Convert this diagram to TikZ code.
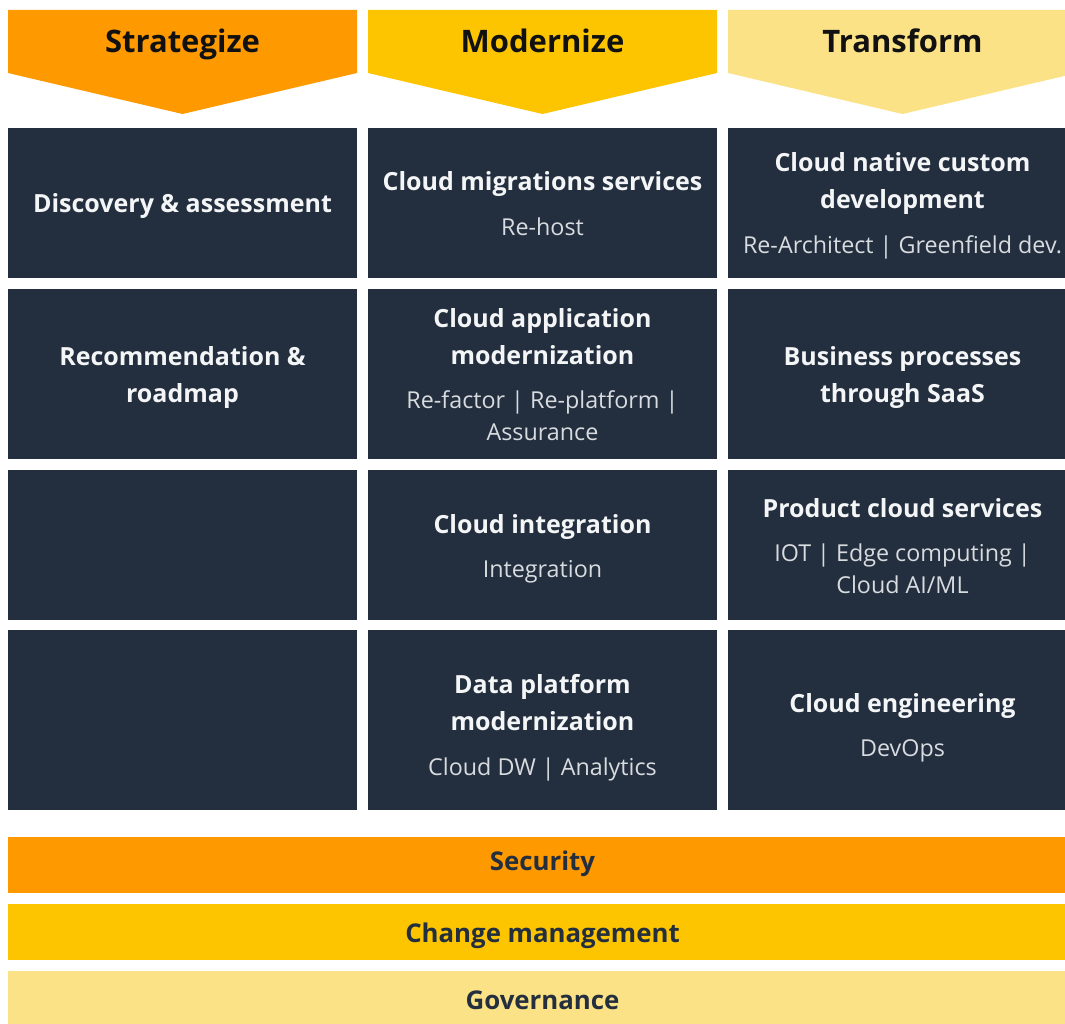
\documentclass[tikz,border=0pt]{standalone}
\usepackage{fontspec}
\setmainfont{Open Sans}
\definecolor{ink}{HTML}{232F3E}
\definecolor{orng}{HTML}{FF9900}
\definecolor{yel}{HTML}{FDC500}
\definecolor{lyel}{HTML}{FCE286}
\definecolor{titlec}{HTML}{F4F5F6}
\definecolor{subc}{HTML}{D8DBDF}
\definecolor{hdrc}{HTML}{111111}
\tikzset{
  ttl/.style={text=titlec, font=\bfseries\fontsize{25}{30}\selectfont, text height=18pt, text depth=0pt, inner sep=0pt},
  sub/.style={text=subc, font=\fontsize{23.3}{28}\selectfont, text height=16.5pt, text depth=0pt, inner sep=0pt},
  hdr/.style={text=hdrc, font=\bfseries\fontsize{31}{36}\selectfont, text height=22pt, text depth=0pt, inner sep=0pt},
  bartxt/.style={text=ink, font=\bfseries\fontsize{25.8}{30}\selectfont, text height=18.5pt, text depth=0pt, inner sep=0pt},
}
\begin{document}
\begin{tikzpicture}[x=1pt,y=-1pt]
\useasboundingbox (0,0) rectangle (1065,1024);
\clip (0,0) rectangle (1065,1024);
% headers
\fill[orng] (8,10) -- (357,10) -- (357,73) -- (182.5,114) -- (8,73) -- cycle;
\fill[yel] (368,10) -- (717,10) -- (717,73) -- (542.5,114) -- (368,73) -- cycle;
\fill[lyel] (728,10) -- (1077,10) -- (1077,73) -- (902.5,114) -- (728,73) -- cycle;
\node[hdr] (h1) at (182.5,42) {Strategize};
\node[hdr] (h2) at (542.5,42) {Modernize};
\node[hdr] (h3) at (902.5,42) {Transform};
% cells
\foreach \x in {8,368,728}{
  \fill[ink] (\x,128) rectangle ++(349,150);
  \fill[ink] (\x,289) rectangle ++(349,170);
  \fill[ink] (\x,470) rectangle ++(349,150);
  \fill[ink] (\x,630) rectangle ++(349,180);
}
% row 1
\node[ttl] (a1) at (182.5,204) {Discovery \& assessment};
\node[ttl] (b1) at (542.5,182) {Cloud migrations services};
\node[sub] (b1s) at (542.5,227) {Re-host};
\node[ttl] (c1a) at (902.5,163) {Cloud native custom};
\node[ttl] (c1b) at (902.5,200) {development};
\node[sub] (c1s) at (902.5,245) {Re-Architect | Greenfield dev.};
% row 2
\node[ttl] (a2a) at (182.5,356) {Recommendation \&};
\node[ttl] (a2b) at (182.5,393) {roadmap};
\node[ttl] (b2a) at (542.5,318) {Cloud application};
\node[ttl] (b2b) at (542.5,355) {modernization};
\node[sub] (b2s) at (542.5,400) {Re-factor | Re-platform |};
\node[sub] (b2t) at (542.5,432) {Assurance};
\node[ttl] (c2a) at (902.5,356) {Business processes};
\node[ttl] (c2b) at (902.5,393) {through SaaS};
% row 3
\node[ttl] (b3) at (542.5,524) {Cloud integration};
\node[sub] (b3s) at (542.5,569) {Integration};
\node[ttl] (c3) at (902.5,508) {Product cloud services};
\node[sub] (c3s) at (902.5,553) {IOT | Edge computing |};
\node[sub] (c3t) at (902.5,585) {Cloud AI/ML};
% row 4
\node[ttl] (b4a) at (542.5,684) {Data platform};
\node[ttl] (b4b) at (542.5,721) {modernization};
\node[sub] (b4s) at (542.5,767) {Cloud DW | Analytics};
\node[ttl] (c4) at (902.5,703) {Cloud engineering};
\node[sub] (c4s) at (902.5,748) {DevOps};
% bars
\fill[orng] (8,837) rectangle (1077,893);
\fill[yel] (8,904) rectangle (1077,960);
\fill[lyel] (8,971) rectangle (1077,1030);
\node[bartxt] (s) at (542.5,861) {Security};
\node[bartxt] (cm) at (542.5,933) {Change management};
\node[bartxt] (g) at (542.5,1000) {Governance};
\end{tikzpicture}
\end{document}
